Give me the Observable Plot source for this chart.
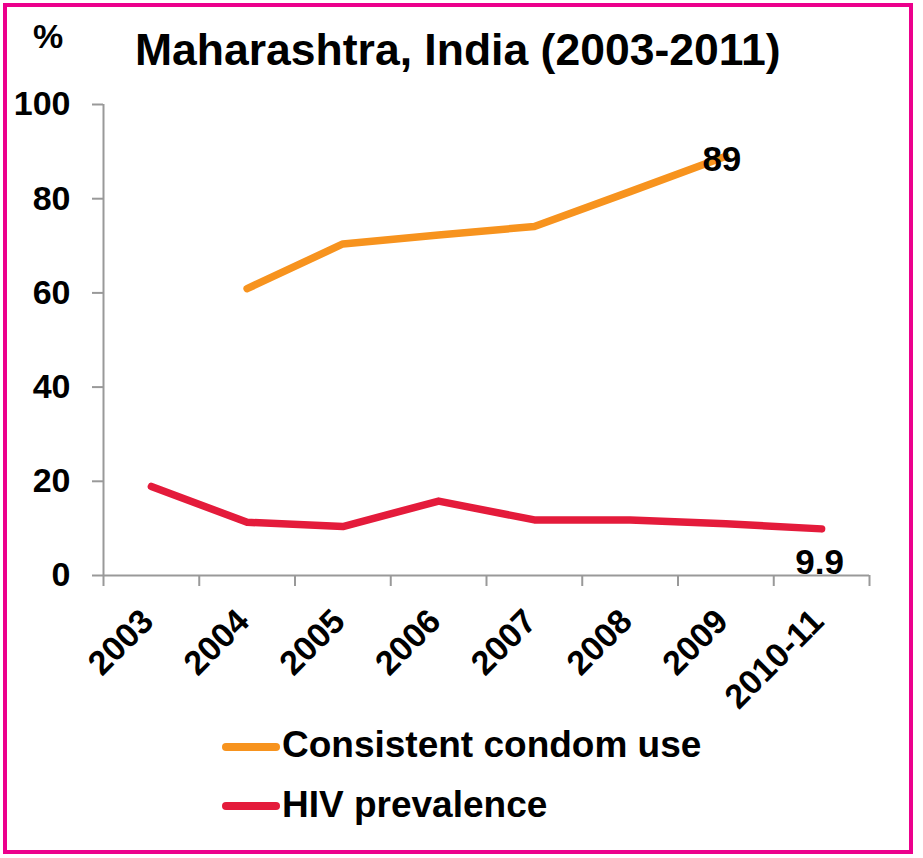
<!DOCTYPE html>
<html>
<head>
<meta charset="utf-8">
<script src="https://cdn.jsdelivr.net/npm/d3@7"></script>
<script src="https://cdn.jsdelivr.net/npm/@observablehq/plot@0.6"></script>
<style>
  html, body { margin: 0; padding: 0; background: #fff; }
  body { width: 923px; height: 858px; position: relative; overflow: hidden;
         font-family: "Liberation Sans", Arial, Helvetica, sans-serif; }
  #frame { position: absolute; left: 3px; top: 3px; width: 910px; height: 851px;
           box-sizing: border-box; border: 4px solid #EC008C; }
  #chart { position: absolute; left: 0; top: 0; }
  .t { position: absolute; font-weight: bold; color: #000; line-height: 1; white-space: nowrap; }
  #title { left: 135px; top: 28px; font-size: 44.5px; }
  #pct { left: 33px; top: 19px; font-size: 34px; }
  .legkey { position: absolute; height: 8px; border-radius: 4px; left: 222px; width: 58px; }
  .legtxt { left: 282px; font-size: 37px; }
</style>
</head>
<body>
<div id="frame"></div>
<div id="chart"></div>
<div id="title" class="t">Maharashtra, India (2003-2011)</div>
<div id="pct" class="t">%</div>
<div id="legend"></div>
<script>
// ---- data ----
const categories = ["2003", "2004", "2005", "2006", "2007", "2008", "2009", "2010-11"];
const condomUse = [null, 60.9, 70.4, 72.3, 74.1, 81.5, 89, null];
const hivPrevalence = [18.9, 11.3, 10.4, 15.8, 11.8, 11.8, 11.0, 9.9];
const yTicks = [0, 20, 40, 60, 80, 100];
const seriesNames = ["Consistent condom use", "HIV prevalence"];
const seriesColors = ["#F7931E", "#E41B3B"];

// ---- build rows ----
const condomRows = categories.map((c, i) => ({pos: i + 0.5, cat: c, value: condomUse[i]}));
const hivRows = categories.map((c, i) => ({pos: i + 0.5, cat: c, value: hivPrevalence[i]}));
const catRows = categories.map((c, i) => ({pos: i + 0.5, cat: c}));
const boundaries = d3.range(categories.length + 1);
const lastCondom = condomRows.filter(d => d.value != null).at(-1);
const lastHiv = hivRows.filter(d => d.value != null).at(-1);

const axisGray = "#999999";
const font = '"Liberation Sans", Arial, Helvetica, sans-serif';

const plot = Plot.plot({
  width: 923,
  height: 720,
  marginLeft: 103,
  marginRight: 54,
  marginTop: 104,
  marginBottom: 145,
  style: {fontFamily: font, background: "transparent", overflow: "visible"},
  x: {type: "linear", domain: [0, categories.length], axis: null},
  y: {domain: [0, 100], axis: null},
  marks: [
    // axis lines
    Plot.ruleY([0], {x1: 0, x2: categories.length, stroke: axisGray, strokeWidth: 2}),
    Plot.ruleX([0], {y1: 0, y2: 100, stroke: axisGray, strokeWidth: 2}),
    // y axis ticks + labels
    Plot.axisY({
      ticks: yTicks, tickSize: 11, tickPadding: 22, tickFormat: d => String(d),
      stroke: axisGray, strokeWidth: 2, fill: "#000",
      fontSize: 34, fontWeight: "bold", label: null
    }),
    // x axis boundary ticks
    Plot.axisX({
      ticks: boundaries, tickSize: 11, tickFormat: () => "",
      stroke: axisGray, strokeWidth: 2, label: null
    }),
    // x category labels
    Plot.text(catRows, {
      x: "pos", text: "cat", frameAnchor: "bottom",
      rotate: -45, textAnchor: "end", lineAnchor: "bottom",
      dx: 4, dy: 48, fontSize: 34, fontWeight: "bold", fill: "#000"
    }),
    // series lines
    Plot.line(condomRows, {
      x: "pos", y: "value", stroke: seriesColors[0], strokeWidth: 7.5,
      strokeLinecap: "round", strokeLinejoin: "round"
    }),
    Plot.line(hivRows, {
      x: "pos", y: "value", stroke: seriesColors[1], strokeWidth: 7.5,
      strokeLinecap: "round", strokeLinejoin: "round"
    }),
    // end labels
    Plot.text([lastCondom], {
      x: "pos", y: "value", text: d => String(d.value),
      textAnchor: "middle", lineAnchor: "bottom", dx: -4, dy: 15,
      fontSize: 35, fontWeight: "bold", fill: "#000"
    }),
    Plot.text([lastHiv], {
      x: "pos", y: "value", text: d => String(d.value),
      textAnchor: "middle", lineAnchor: "bottom", dx: -2, dy: 45,
      fontSize: 35, fontWeight: "bold", fill: "#000"
    })
  ]
});
document.getElementById("chart").appendChild(plot);

// ---- legend ----
const legend = document.getElementById("legend");
const legendTops = [725.5, 785.5];
const keyCenters = [747, 806];
seriesNames.forEach((name, i) => {
  const key = document.createElement("div");
  key.className = "legkey";
  key.style.background = seriesColors[i];
  key.style.top = (keyCenters[i] - 4) + "px";
  legend.appendChild(key);
  const txt = document.createElement("div");
  txt.className = "t legtxt";
  txt.style.top = legendTops[i] + "px";
  txt.textContent = name;
  legend.appendChild(txt);
});
</script>
</body>
</html>
